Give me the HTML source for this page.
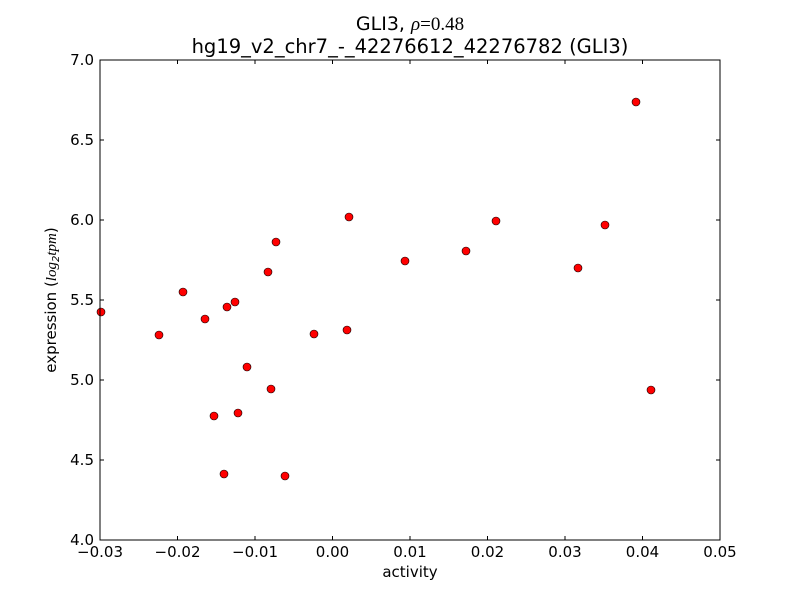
<!DOCTYPE html>
<html><head><meta charset="utf-8"><style>body{margin:0;background:#fff}</style></head><body>
<svg width="800" height="600" xmlns="http://www.w3.org/2000/svg" font-family="DejaVu Sans, Liberation Sans, sans-serif">
<rect width="800" height="600" fill="#fff"/>
<g fill="#f00" stroke="#000" stroke-width="0.6">
<circle cx="101" cy="312" r="4"/><circle cx="159" cy="335" r="4"/><circle cx="183" cy="292" r="4"/>
<circle cx="205" cy="319" r="4"/><circle cx="227" cy="307" r="4"/><circle cx="235" cy="302" r="4"/>
<circle cx="214" cy="416" r="4"/><circle cx="224" cy="474" r="4"/><circle cx="238" cy="413" r="4"/>
<circle cx="247" cy="367" r="4"/><circle cx="268" cy="272" r="4"/><circle cx="271" cy="389" r="4"/>
<circle cx="276" cy="242" r="4"/><circle cx="285" cy="476" r="4"/><circle cx="314" cy="334" r="4"/>
<circle cx="347" cy="330" r="4"/><circle cx="349" cy="217" r="4"/><circle cx="405" cy="261" r="4"/>
<circle cx="466" cy="251" r="4"/><circle cx="496" cy="221" r="4"/><circle cx="578" cy="268" r="4"/>
<circle cx="605" cy="225" r="4"/><circle cx="636" cy="102" r="4"/><circle cx="651" cy="390" r="4"/>
</g>
<rect x="100" y="60" width="620" height="480" fill="none" stroke="#000" stroke-width="1"/>
<g stroke="#000" stroke-width="1">
<path d="M177.5 540v-4M255 540v-4M332.5 540v-4M410 540v-4M487.5 540v-4M565 540v-4M642.5 540v-4M177.5 60v4M255 60v4M332.5 60v4M410 60v4M487.5 60v4M565 60v4M642.5 60v4"/>
<path d="M100 460h4M100 380h4M100 300h4M100 220h4M100 140h4M720 460h-4M720 380h-4M720 300h-4M720 220h-4M720 140h-4"/>
</g>
<g font-size="15" text-anchor="middle">
<text x="100" y="557">−0.03</text><text x="177.5" y="557">−0.02</text><text x="255" y="557">−0.01</text>
<text x="332.5" y="557">0.00</text><text x="410" y="557">0.01</text><text x="487.5" y="557">0.02</text>
<text x="565" y="557">0.03</text><text x="642.5" y="557">0.04</text><text x="720" y="557">0.05</text>
</g>
<g font-size="15" text-anchor="end">
<text x="94" y="545">4.0</text><text x="94" y="465">4.5</text><text x="94" y="385">5.0</text>
<text x="94" y="305">5.5</text><text x="94" y="225">6.0</text><text x="94" y="145">6.5</text><text x="94" y="65">7.0</text>
</g>
<text x="410" y="577" font-size="15" text-anchor="middle">activity</text>
<text transform="translate(56,300) rotate(-90)" font-size="15" text-anchor="middle">expression (<tspan font-style="italic" font-family="Liberation Serif, serif">log</tspan><tspan font-size="10" dy="3" font-style="italic">2</tspan><tspan dy="-3" font-style="italic" font-family="Liberation Serif, serif">tpm</tspan>)</text>
<text x="410" y="30" font-size="19" text-anchor="middle">GLI3, <tspan font-style="italic" font-family="Liberation Serif, serif">ρ</tspan><tspan font-family="Liberation Serif, serif">=0.48</tspan></text>
<text x="410" y="53" font-size="19.5" text-anchor="middle">hg19_v2_chr7_-_42276612_42276782 (GLI3)</text>
</svg>
</body></html>
